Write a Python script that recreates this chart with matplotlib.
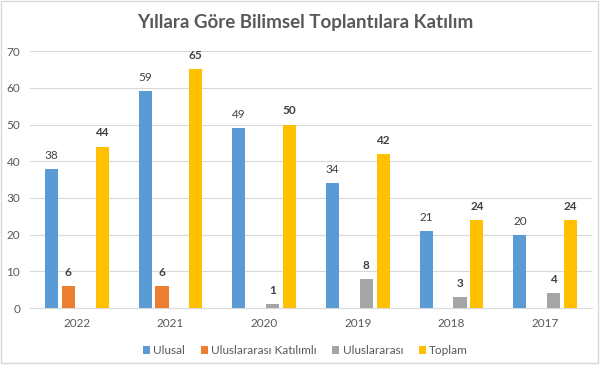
import matplotlib.pyplot as plt
import numpy as np
from matplotlib.patches import Rectangle

plt.rcParams['font.family'] = ['Lato', 'DejaVu Sans']

# ==== veri ====
years = ["2022", "2021", "2020", "2019", "2018", "2017"]
ulusal = [38, 59, 49, 34, 21, 20]
uk_katilimli = [6, 6, 0, 0, 0, 0]
uluslararasi = [0, 0, 1, 8, 3, 4]
toplam = [44, 65, 50, 42, 24, 24]

series = [
    ("Ulusal", ulusal, "#5B9BD5", "normal"),
    ("Uluslararası Katılımlı", uk_katilimli, "#ED7D31", "bold"),
    ("Uluslararası", uluslararasi, "#A5A5A5", "bold"),
    ("Toplam", toplam, "#FFC000", "bold"),
]

fig = plt.figure(figsize=(6.11, 3.73), dpi=100)
fig.patches.append(Rectangle((0.002, 0.027), 0.976, 0.97, transform=fig.transFigure,
                             fill=False, edgecolor="#D9D9D9", linewidth=1))
ax = fig.add_axes([0.049, 0.174, 0.920, 0.689])

x = np.arange(len(years))
width = 0.14
step = 0.18
offsets = (np.arange(len(series)) - 1.5) * step

for (name, vals, color, weight), off in zip(series, offsets):
    bars = ax.bar(x + off, vals, width, color=color, label=name, zorder=3)
    for b, v in zip(bars, vals):
        if v == 0:
            continue
        ax.text(b.get_x() + b.get_width() / 2, v + 2.2, str(v), ha="center", va="bottom",
                fontsize=8.5, fontweight=weight, color="#404040")

ax.set_ylim(0, 70)
ax.set_xlim(-0.5, len(years) - 0.5)
ax.set_yticks(range(0, 71, 10))
ax.set_xticks(x)
ax.set_xticklabels(years)
ax.tick_params(axis="both", length=0, colors="#595959", labelsize=8.5)
ax.tick_params(axis="x", pad=7)
ax.tick_params(axis="y", pad=7)
ax.grid(axis="y", color="#D9D9D9", linewidth=0.8, zorder=0)
for s in ["top", "right", "left"]:
    ax.spines[s].set_visible(False)
ax.spines["bottom"].set_color("#D9D9D9")

fig.text(0.5, 0.94, "Yıllara Göre Bilimsel Toplantılara Katılım", ha="center", va="center",
         fontsize=13.5, fontweight="bold", color="#595959")

fig.legend(loc="center", bbox_to_anchor=(0.5, 0.06), ncol=4, frameon=False,
           fontsize=8.5, handlelength=0.6, handleheight=0.6, handletextpad=0.3,
           columnspacing=1.3, labelcolor="#595959")

fig.savefig("out.png", dpi=100)
